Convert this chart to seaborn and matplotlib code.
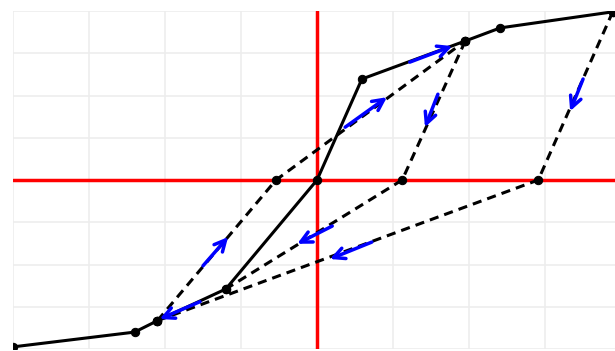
import numpy as np
import pandas as pd
import seaborn as sns
from matplotlib import pyplot as plt

# backbone (solid) curve
bx = [-4.0, -2.4, -2.1, -1.2, 0.0, 0.59, 1.95, 2.41, 3.89]
by = [-3.95, -3.6, -3.33, -2.58, 0.0, 2.39, 3.29, 3.6, 3.98]

# dashed unloading / reloading paths
d1x = [-2.1, -0.54, 1.95]
d1y = [-3.33, 0.0, 3.29]
d2x = [1.95, 1.12, -1.2]
d2y = [3.29, 0.0, -2.58]
d3x = [3.89, 2.91, -2.1]
d3y = [3.98, 0.0, -3.33]

# blue arrows: tail -> head
arrow_tail_x = [-1.5, 0.37, 1.22, 1.59, 3.5, 0.2, 0.72, -1.54]
arrow_tail_y = [-2.03, 1.25, 2.79, 2.03, 2.39, -1.09, -1.47, -2.88]
arrow_head_x = [-1.17, 0.92, 1.78, 1.42, 3.33, -0.26, 0.17, -2.07]
arrow_head_y = [-1.35, 1.96, 3.17, 1.25, 1.63, -1.51, -1.87, -3.29]

sns.set_style('white')
fig = plt.figure(figsize=(6.15, 3.51), dpi=100)
ax = fig.add_axes([13 / 615, 2 / 351, 1 - 13 / 615, 338 / 351])

for x, y in [(d1x, d1y), (d2x, d2y), (d3x, d3y)]:
    df = pd.DataFrame({'x': x, 'y': y})
    sns.lineplot(data=df, x='x', y='y', sort=False, color='black', lw=2.2,
                 dashes=False, ax=ax, marker='o', markersize=6, zorder=3,
                 markeredgecolor='black')
    ax.lines[-1].set_dashes((3, 2))

bb = pd.DataFrame({'x': bx, 'y': by})
sns.lineplot(data=bb, x='x', y='y', sort=False, color='black', lw=2.2,
             marker='o', markersize=6, markeredgecolor='black', ax=ax, zorder=4)

ax.axhline(0, color='red', lw=2.5, zorder=2)
ax.axvline(0, color='red', lw=2.5, zorder=2)

for tx, ty, hx, hy in zip(arrow_tail_x, arrow_tail_y, arrow_head_x, arrow_head_y):
    ax.annotate('', xy=(hx, hy), xytext=(tx, ty),
                arrowprops=dict(arrowstyle='->', color='blue', lw=2.5,
                                mutation_scale=20, shrinkA=0, shrinkB=0),
                zorder=5)

ax.set_xlim(-4, 3.92)
ax.set_ylim(-4, 4)
ax.set_xticks(np.arange(-4, 4, 1))
ax.set_yticks(np.arange(-4, 5, 1))
ax.grid(True, color='#ededed', lw=1.2)
ax.tick_params(length=0, labelbottom=False, labelleft=False)
ax.set_xlabel('')
ax.set_ylabel('')
for s in ax.spines.values():
    s.set_visible(False)

fig.savefig('out.png', dpi=100)
